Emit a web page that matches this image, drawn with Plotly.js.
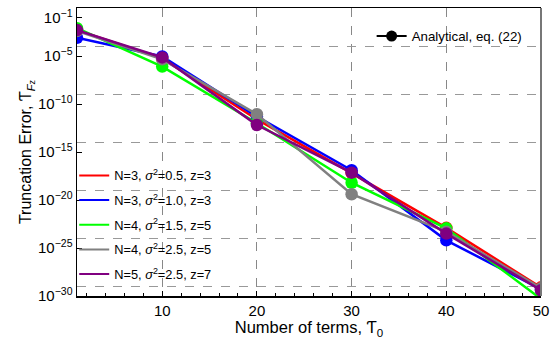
<!DOCTYPE html>
<html>
<head>
<meta charset="utf-8">
<script src="https://cdn.plot.ly/plotly-3.0.1.min.js"></script>
<style>html,body{margin:0;padding:0;background:#fff;}#chart{width:551px;height:343px;}</style>
</head>
<body>
<div id="chart"></div>
<script>
// ---- data ----
const terms = [1, 10, 20, 30, 40, 50];
const seriesNames = [
  "N=3, <i>σ</i><sup>2</sup>=0.5, z=3",
  "N=3, <i>σ</i><sup>2</sup>=1.0, z=3",
  "N=4, <i>σ</i><sup>2</sup>=1.5, z=5",
  "N=4, <i>σ</i><sup>2</sup>=2.5, z=5",
  "N=5, <i>σ</i><sup>2</sup>=2.5, z=7"
];
// log10 of truncation error
const logRed    = [-2.3, -5.25, -11.6, -17.2, -22.9, -29.1];
const logBlue   = [-3.1, -5.05, -11.3, -16.9, -24.2, -29.3];
const logGreen  = [-2.1, -6.1, -12.0, -18.2, -22.95, -30.3];
const logGray   = [-2.4, -5.35, -11.07, -19.4, -23.3, -29.2];
const logPurple = [-2.3, -5.15, -12.19, -17.15, -23.5, -29.4];
const seriesLogs = [logRed, logBlue, logGreen, logGray, logPurple];
const seriesColors = ["#ff0000", "#0000ff", "#00ff00", "#808080", "#800080"];
const analyticalLabel = "Analytical, eq. (22)";
const yTickExps = [-1, -5, -10, -15, -20, -25, -30];
const yGridExps = [-4, -9, -14, -19, -24, -29];
const xTickVals = [10, 20, 30, 40, 50];

const font = "Liberation Sans, Arial, Helvetica, sans-serif";
const traces = [];
seriesLogs.forEach((lg, i) => {
  traces.push({
    x: terms, y: lg.map(v => Math.pow(10, v)),
    mode: "lines+markers", type: "scatter",
    line: {color: seriesColors[i], width: 2.5},
    marker: {color: seriesColors[i], size: 12.5},
    showlegend: false, hoverinfo: "skip"
  });
});
// legend-only entries (lines)
seriesNames.forEach((nm, i) => {
  traces.push({
    x: [null], y: [null], mode: "lines", type: "scatter",
    name: nm, legendgroup: "g" + i,
    line: {color: seriesColors[i], width: 2}, showlegend: true, legend: "legend"
  });
});
traces.push({
  x: [null], y: [null], mode: "lines+markers", type: "scatter",
  name: analyticalLabel, legend: "legend2",
  line: {color: "#000", width: 2}, marker: {color: "#000", size: 11}, showlegend: true
});
// overlay axis only used for the offset dashed grid
traces.push({x: [null], y: [null], yaxis: "y2", mode: "lines", showlegend: false, hoverinfo: "skip"});

const layout = {
  width: 551, height: 343,
  margin: {l: 77, r: 10, t: 8, b: 47},
  paper_bgcolor: "#fff", plot_bgcolor: "#fff",
  font: {family: font, size: 13, color: "#000"},
  xaxis: {
    range: [1, 50], tickvals: xTickVals, ticks: "inside", ticklen: 5, tickcolor: "#000",
    showline: true, linecolor: "#000", linewidth: 1.5, mirror: true,
    showgrid: true, gridcolor: "#888", griddash: "dash", gridwidth: 1,
    zeroline: false, tickfont: {size: 15},
    minor: {dtick: 2, ticks: "inside", ticklen: 3, tickcolor: "#000", showgrid: false},
    title: {text: "Number of terms, Ƭ<sub>0</sub>", font: {size: 16.5}, standoff: 4}
  },
  yaxis: {
    type: "log", range: [-30, 0],
    tickvals: yTickExps.map(e => Math.pow(10, e)),
    ticktext: yTickExps.map(e => "10<sup>−" + Math.abs(e) + "</sup>"),
    ticks: "inside", ticklen: 5, tickcolor: "#000",
    showline: true, linecolor: "#000", linewidth: 1.5, mirror: false,
    showgrid: false, zeroline: false, tickfont: {size: 15},
    title: {text: "Truncation Error, Ƭ<sub><i>F</i><span style='font-size:9px'>z</span></sub>", font: {size: 16}, standoff: 2}
  },
  yaxis2: {
    type: "log", range: [-30, 0], overlaying: "y",
    tickvals: yGridExps.map(e => Math.pow(10, e)),
    showticklabels: false, ticks: "", showline: false,
    showgrid: true, gridcolor: "#999", griddash: "dash", gridwidth: 1, zeroline: false
  },
  shapes: [{type: "line", xref: "paper", yref: "paper", x0: 1, x1: 1, y0: 0, y1: 1,
            line: {color: "#777", width: 2}}],
  legend: {
    x: -0.006, y: 0.47, xanchor: "left", yanchor: "top",
    bgcolor: "rgba(0,0,0,0)", font: {size: 12.8, family: font},
    traceorder: "grouped", tracegroupgap: 5, itemwidth: 30
  },
  legend2: {
    x: 0.635, y: 0.955, xanchor: "left", yanchor: "top",
    bgcolor: "rgba(0,0,0,0)", font: {size: 13.3, family: font}, itemwidth: 30
  },
  showlegend: true
};
Plotly.newPlot("chart", traces, layout, {displayModeBar: false, staticPlot: true});
</script>
</body>
</html>
